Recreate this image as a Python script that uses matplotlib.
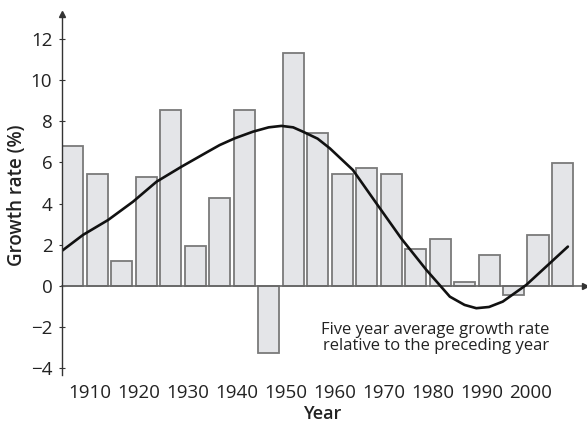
import numpy as np
import matplotlib
matplotlib.use("Agg")
import matplotlib.pyplot as plt

plt.rcParams['font.family'] = ['Open Sans', 'DejaVu Sans']

# Five-year periods (bar centres) and growth rate values (%)
period_centers = np.arange(1906.5, 2007, 5)
growth = [6.8, 5.42, 1.23, 5.28, 8.54, 1.94, 4.26, 8.53, -3.27, 11.33, 7.41,
          5.42, 5.71, 5.44, 1.78, 2.27, 0.21, 1.50, -0.44, 2.48, 5.96]

# Smoothed trend
trend_years = [1904.1, 1908.6, 1913.7, 1918.8, 1923.6, 1928.7, 1934.1, 1936.5,
               1939.6, 1943.3, 1946.5, 1949.1, 1951.5, 1953.5, 1956.5, 1959.0,
               1963.7, 1968.5, 1973.6, 1978.7, 1983.5, 1986.5, 1988.9, 1991.5,
               1994.3, 1999.1, 2003.9, 2007.6]
trend_values = [1.67, 2.48, 3.20, 4.09, 5.06, 5.79, 6.52, 6.84,
                7.17, 7.49, 7.70, 7.77, 7.70, 7.49, 7.15, 6.68,
                5.63, 4.01, 2.30, 0.78, -0.52, -0.92, -1.08, -1.02,
                -0.76, 0.05, 1.10, 1.91]

xticks = [1910, 1920, 1930, 1940, 1950, 1960, 1970, 1980, 1990, 2000]
yticks = [-4, -2, 0, 2, 4, 6, 8, 10, 12]

fig = plt.figure(figsize=(5.87, 4.24), dpi=100)
ax = fig.add_axes([0.1056, 0.1118, 0.8927, 0.8745])
x0, x1 = 1904.3, 2011.3
y0, y1 = -4.4, 13.6
ax.set_xlim(x0, x1)
ax.set_ylim(y0, y1)

ax.bar(period_centers, growth, width=4.3, color='#e4e5e8', edgecolor='#7a7a7a',
       linewidth=1.3, zorder=2)
ax.plot(trend_years, trend_values, color='#111111', lw=1.9, zorder=4,
        solid_capstyle='round', solid_joinstyle='round')

for s in ax.spines.values():
    s.set_visible(False)

axis_col = '#333333'
# y axis with arrow
ax.plot([x0 + 0.05, x0 + 0.05], [-4.3, 13.1], color=axis_col, lw=1.0, zorder=5, clip_on=False)
ax.plot([x0 + 0.05], [13.2], marker='^', color=axis_col, ms=5, zorder=5, clip_on=False)
# x axis at zero with arrow
ax.plot([x0, 2010.5], [0, 0], color='#666666', lw=1.2, zorder=3, clip_on=False)
ax.plot([2011.0], [0], marker='>', color=axis_col, ms=5, zorder=5, clip_on=False)

ax.set_yticks(yticks)
ax.set_yticklabels([str(v).replace('-', '\u2212') for v in yticks])
ax.set_xticks(xticks)
ax.set_xticklabels([str(v) for v in xticks])
ax.tick_params(axis='y', direction='inout', length=4, width=0.8, color=axis_col,
               labelsize=13.5, pad=5, labelcolor='#222222')
ax.tick_params(axis='x', length=0, labelsize=13.5, pad=5, labelcolor='#222222')

ax.set_ylabel('Growth rate (%)', fontsize=13.5, fontweight='semibold', color='#222222')
ax.yaxis.set_label_coords(-0.067, 0.49)
ax.set_xlabel('Year', fontsize=13, fontweight='semibold', color='#222222')
ax.xaxis.set_label_coords(0.496, -0.077)

ax.text(1980.6, -2.55, 'Five year average growth rate\nrelative to the preceding year',
        ha='center', va='center', fontsize=12, color='#222222', linespacing=1.0)

fig.savefig('out.png', dpi=100)
